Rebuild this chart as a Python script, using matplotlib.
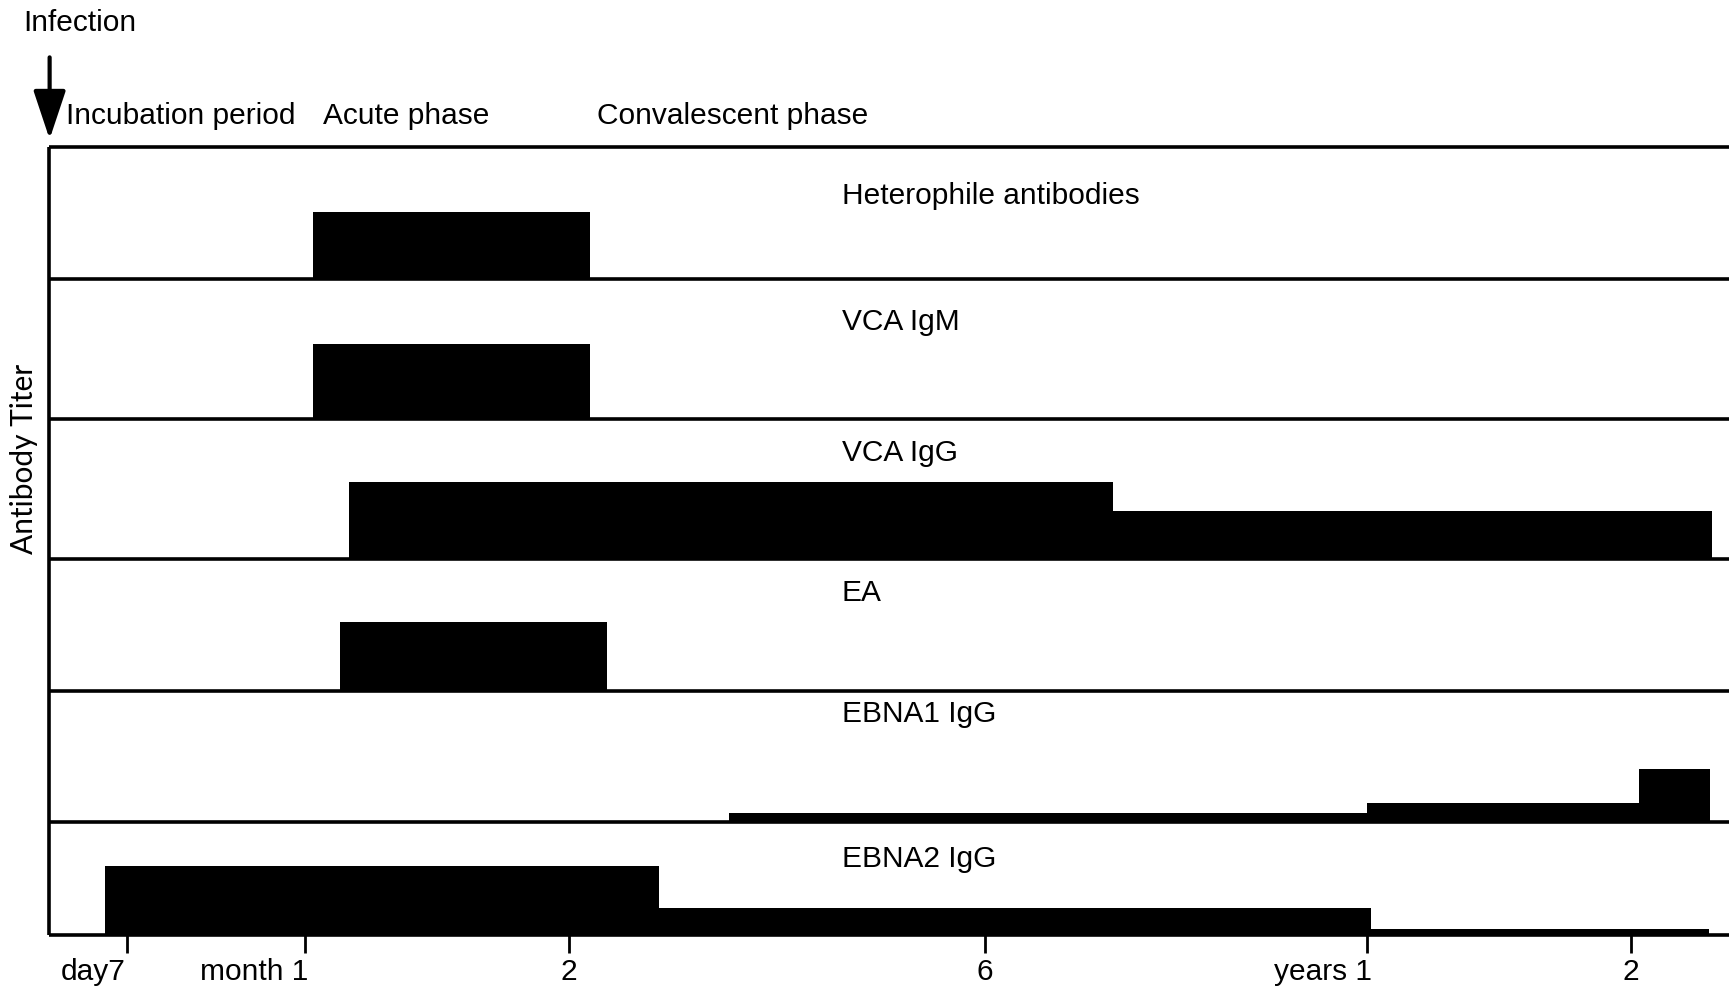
import numpy as np
import matplotlib
matplotlib.use('Agg')
import matplotlib.pyplot as plt

# ── DATA ──────────────────────────────────────────────────────────────────────
# schematic time axis: days since infection <-> relative position on the axis
SCALE_DAYS = [0, 7, 30, 60, 180, 365, 730, 1095]
SCALE_POS  = [0, 71, 232, 472, 849, 1196, 1435, 1674]
X_MAX_DAYS = 866

PANELS = ['Heterophile antibodies', 'VCA IgM', 'VCA IgG', 'EA',
          'EBNA1 IgG', 'EBNA2 IgG']
PANEL_HEIGHT = [120, 127, 127, 119, 119, 103]   # titer range of each strip

# step segments: panel index, start day, end day, relative titer
SEG_PANEL = [0, 1, 2, 2, 3, 4, 4, 4, 5, 5, 5]
SEG_START = [31, 31, 35, 242, 34, 106, 365, 741, 5, 86, 370]
SEG_END   = [66, 66, 242, 843, 71, 365, 741, 840, 86, 370, 838]
SEG_TITER = [61, 68, 70, 44, 62, 8, 17, 48, 63, 25, 6]

TICK_DAYS   = [7, 30, 60, 180, 365, 730]
TICK_LABELS = ['day7', 'month 1', '2', '6', 'years 1', '2']

PHASES = ['Incubation period', 'Acute phase', 'Convalescent phase']
# ── END DATA ──────────────────────────────────────────────────────────────────

LABEL_Y = [0.625, 0.693, 0.756, 0.74, 0.824, 0.67]
PHASE_X = [0.0383, 0.1869, 0.345]
LW = 2.6
FS = 21.5

plt.rcParams['font.family'] = ['Liberation Sans', 'DejaVu Sans']


def fwd(x):
    return np.interp(x, SCALE_DAYS, SCALE_POS)


def inv(x):
    return np.interp(x, SCALE_POS, SCALE_DAYS)


fig = plt.figure(figsize=(17.29, 9.94), dpi=100)
fig.patch.set_facecolor('white')
gs = fig.add_gridspec(len(PANELS), 1, height_ratios=PANEL_HEIGHT, hspace=0,
                      left=0.0283, right=1.0, top=0.8524, bottom=0.0589)
axes = [fig.add_subplot(gs[i]) for i in range(len(PANELS))]

for i, ax in enumerate(axes):
    ax.patch.set_visible(False)
    ax.set_xscale('function', functions=(fwd, inv))
    ax.set_xlim(0, X_MAX_DAYS)
    ax.set_ylim(0, PANEL_HEIGHT[i])
    ax.set_yticks([])
    ax.spines['right'].set_visible(False)
    ax.spines['top'].set_visible(i == 0)
    for s in ('top', 'left', 'bottom'):
        ax.spines[s].set_linewidth(LW)
        ax.spines[s].set_capstyle('butt')
    ax.text(0.4718, LABEL_Y[i], PANELS[i], transform=ax.transAxes,
            ha='left', va='center', fontsize=FS)
    if i < len(PANELS) - 1:
        ax.set_xticks([])
        ax.xaxis.set_minor_locator(matplotlib.ticker.NullLocator())

for p, s, e, t in zip(SEG_PANEL, SEG_START, SEG_END, SEG_TITER):
    axes[p].bar(s, t, width=e - s, align='edge', color='black',
                linewidth=0, zorder=3)

bottom = axes[-1]
bottom.set_xticks(TICK_DAYS)
bottom.set_xticklabels([])
bottom.xaxis.set_minor_locator(matplotlib.ticker.NullLocator())
bottom.tick_params(axis='x', direction='out', length=13, width=2)
for d, lab in zip(TICK_DAYS, TICK_LABELS):
    if len(lab) == 1:
        ha, dx = 'center', 0
    elif ' ' in lab:
        ha, dx = 'right', 3
    else:
        ha, dx = 'right', -1
    bottom.annotate(lab, xy=(d, 0), xycoords=('data', 'axes fraction'),
                    xytext=(dx, -26), textcoords='offset points',
                    ha=ha, va='center', fontsize=FS)

fig.text(0.014, 0.538, 'Antibody Titer', rotation=90, ha='center',
         va='center', fontsize=21.5, family=['Lato', 'DejaVu Sans'])

fig.text(0.0135, 0.977, 'Infection', ha='left', va='center', fontsize=FS)
for x, lab in zip(PHASE_X, PHASES):
    fig.text(x, 0.8835, lab, ha='left', va='center', fontsize=FS)

fig.add_artist(matplotlib.patches.FancyArrowPatch(
    (0.0287, 0.9423), (0.0287, 0.860), transform=fig.transFigure,
    arrowstyle='-|>,head_length=30,head_width=10', mutation_scale=1,
    color='black', lw=3, shrinkA=0, shrinkB=0))

fig.savefig('out.png', dpi=100, facecolor='white')
